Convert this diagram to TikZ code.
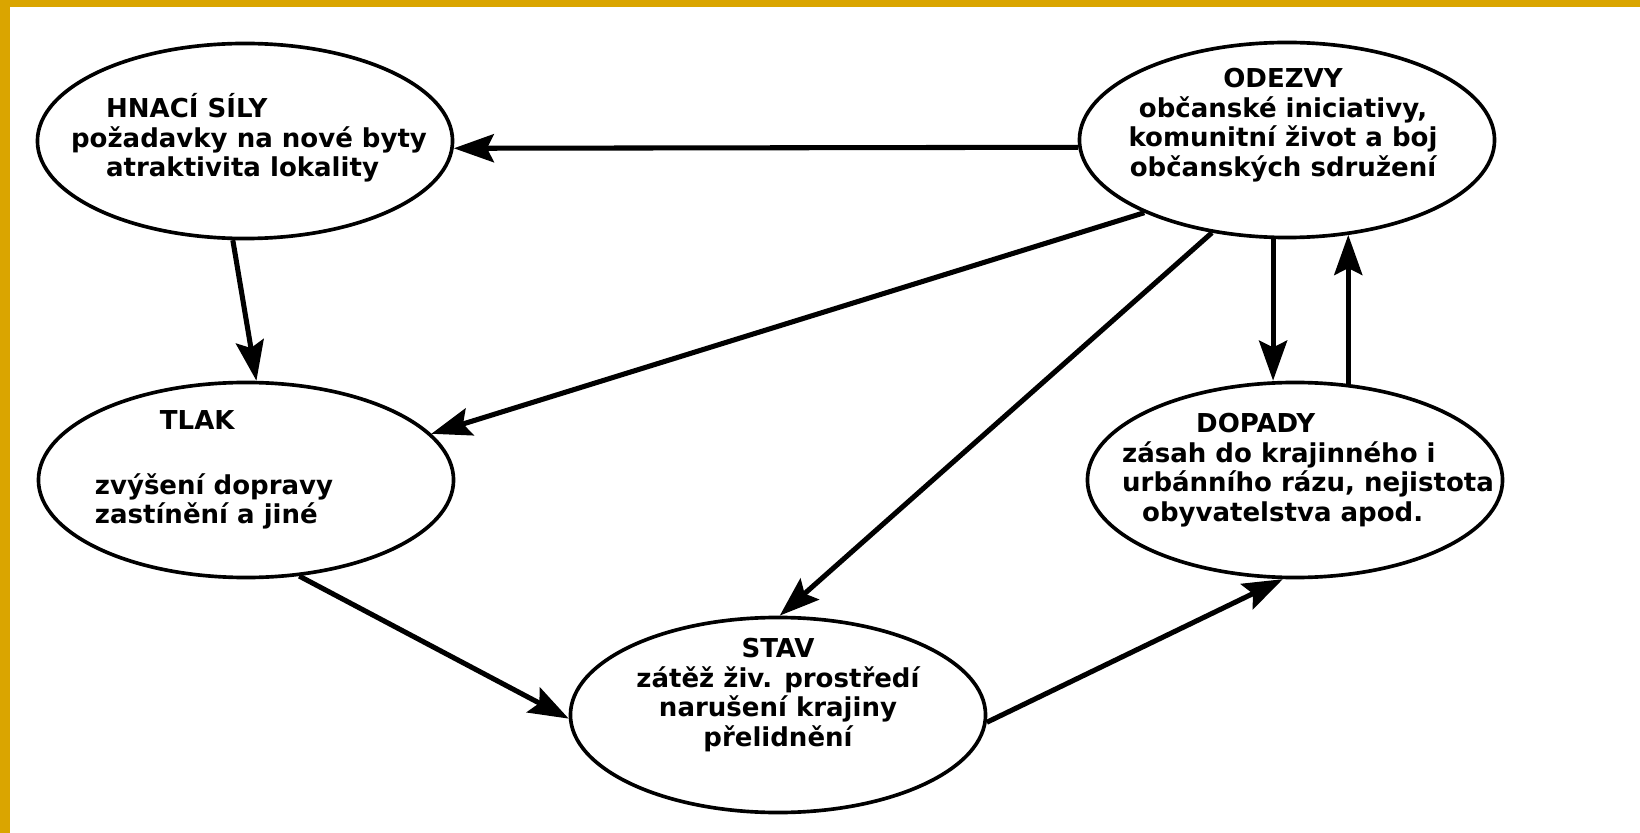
\documentclass[tikz,border=0pt]{standalone}
\usepackage{fontspec}
\setmainfont{DejaVu Sans}
\usepackage{tikz}
\usetikzlibrary{shapes.geometric,arrows.meta,positioning,calc}
\definecolor{goldbar}{RGB}{218,165,0}

\begin{document}
\begin{tikzpicture}[x=0.025cm, y=-0.025cm,
   stage/.style={ellipse, draw=black, line width=2.6pt, fill=white,
     minimum width=10.375cm, minimum height=4.875cm, inner sep=0pt},
   txt/.style={font=\bfseries\fontsize{18.5}{21}\selectfont, inner sep=0pt},
   flow/.style={-{Stealth[length=1cm,width=0.7cm,inset=0.17cm]}, line width=3.6pt}]
   % page and frame
   \useasboundingbox (0,0) rectangle (1640,833);
   \fill[white] (0,0) rectangle (1640,833);
   \fill[goldbar] (0,0) rectangle (1640,7);
   \fill[goldbar] (0,0) rectangle (10,833);
   % stages
   \node[stage] (hnaci) at (245,141) {};
   \node[stage] (odezvy) at (1287,140) {};
   \node[stage] (tlak) at (246,480) {};
   \node[stage] (dopady) at (1295,480) {};
   \node[stage] (stav) at (778,715) {};
   % texts
   \node[txt, align=left] (hnaci-t) at (249,138)
     {\hspace*{0.875cm}HNACÍ SÍLY\\požadavky na nové byty\\\hspace*{0.875cm}atraktivita lokality};
   \node[txt, align=center] (odezvy-t) at (1283,125)
     {ODEZVY\\občanské iniciativy,\\komunitní život a boj\\občanských sdružení};
   \node[txt, align=left] (tlak-t) at (214,470)
     {\hspace*{1.625cm}TLAK\\[0.88cm]zvýšení dopravy\\zastínění a jiné};
   \node[txt, align=left] (dopady-t) at (1308,470)
     {\hspace*{1.85cm}DOPADY\\zásah do krajinného i\\urbánního rázu, nejistota\\\hspace*{0.5cm}obyvatelstva apod.};
   \node[txt, align=center] (stav-t) at (778,695)
     {STAV\\zátěž živ. prostředí\\narušení krajiny\\přelidnění};
   % connectors
   \draw[flow] (odezvy.182) -- (hnaci.-2);
   \draw[flow] (hnaci.263) -- (tlak.84);
   \draw[flow] (odezvy.207) -- (tlak.14);
   \draw[flow] (odezvy.231) -- (stav.89);
   \draw[flow] (odezvy.262) -- (odezvy.262 |- dopady.north);
   \draw[flow] (dopady.61) -- (dopady.61 |- odezvy.303);
   \draw[flow] (tlak.-61) -- (stav.181);
   \draw[flow] (stav.-2) -- (dopady.263);
\end{tikzpicture}
\end{document}
